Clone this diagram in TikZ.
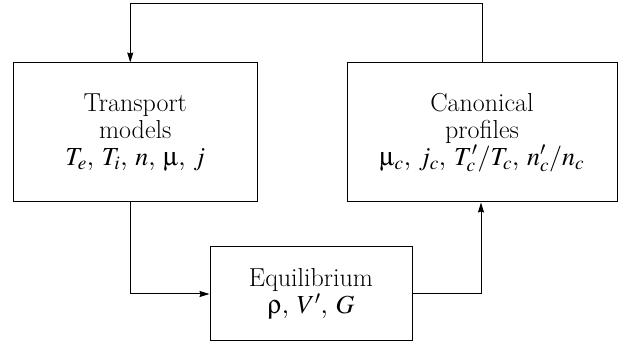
\documentclass[tikz,border=0pt]{standalone}
\usepackage{mathptmx}
\usepackage[Symbol]{upgreek}
\usetikzlibrary{arrows.meta,positioning,calc}

\begin{document}
\begin{tikzpicture}[x=1pt, y=-1pt,
    box/.style={rectangle, draw=black, line width=1pt, fill=white,
        align=center, inner sep=0pt,
        font=\fontsize{26}{27}\selectfont},
    arr/.style={-{Stealth[length=10pt, width=6pt, inset=1pt]}, line width=1pt}
]
    \useasboundingbox (0,0) rectangle (619,347);
    \node[box, minimum width=243.5pt, minimum height=139pt] (tm) at (135.25,132.5)
        {Transport\\ models\\ $T_e{,}\ T_i{,}\ n{,}\ \upmu{,}\ j$};
    \node[box, minimum width=270pt, minimum height=139pt] (cp) at (482,132.5)
        {Canonical\\ profiles\\ $\upmu_c{,}\ j_c{,}\ T'_c/T_c{,}\ n'_c/n_c$};
    \node[box, minimum width=202pt, minimum height=94pt] (eq) at (311,294)
        {Equilibrium\\ $\uprho{,}\ V'{,}\ G$};

    \draw[arr] (cp.north) -- ++(0,-59) -| ([xshift=-5pt]tm.north);
    \draw[arr] ([xshift=-5pt]tm.south) |- (eq.west);
    \draw[arr] (eq.east) -| ([xshift=-1pt]cp.south);
\end{tikzpicture}
\end{document}
